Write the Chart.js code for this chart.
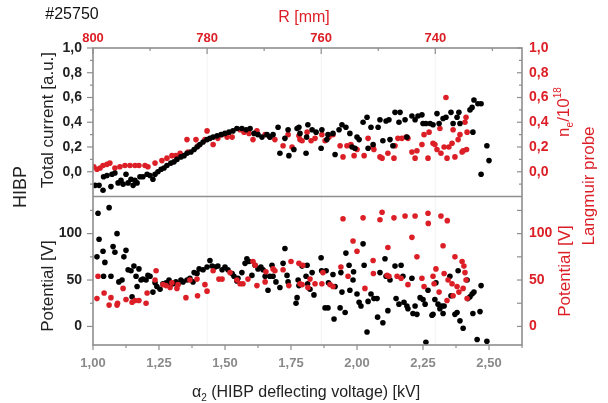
<!DOCTYPE html>
<html>
<head>
<meta charset="utf-8">
<script src="https://cdn.jsdelivr.net/npm/chart.js@4.4.1/dist/chart.umd.min.js"></script>
<style>
  html, body { margin: 0; padding: 0; background: #fff; }
  #wrap { width: 608px; height: 403px; }
</style>
</head>
<body>
<div id="wrap"><canvas id="chart" width="608" height="403"></canvas></div>
<script>
// [alpha2 kV, value]
const totalCurrent = [[1.008,-0.11],[1.023,-0.11],[1.038,-0.15],[1.040,-0.04],[1.053,-0.03],[1.068,-0.12],[1.072,-0.02],[1.083,-0.01],[1.095,-0.09],[1.106,-0.07],[1.114,-0.10],[1.125,-0.02],[1.133,-0.09],[1.144,-0.06],[1.152,-0.11],[1.159,-0.07],[1.167,-0.09],[1.178,-0.04],[1.189,-0.04],[1.205,-0.02],[1.216,-0.03],[1.227,-0.06],[1.235,-0.02],[1.246,0.00],[1.258,0.02],[1.269,0.03],[1.280,0.05],[1.295,0.07],[1.307,0.08],[1.318,0.10],[1.333,0.12],[1.345,0.13],[1.356,0.15],[1.371,0.16],[1.383,0.18],[1.394,0.20],[1.405,0.22],[1.417,0.24],[1.432,0.26],[1.443,0.27],[1.455,0.28],[1.470,0.29],[1.485,0.30],[1.500,0.31],[1.515,0.32],[1.530,0.33],[1.545,0.35],[1.564,0.35],[1.580,0.34],[1.595,0.35],[1.610,0.31],[1.625,0.30],[1.640,0.28],[1.659,0.30],[1.670,0.28],[1.682,0.30],[1.701,0.36],[1.708,0.15],[1.727,0.27],[1.739,0.34],[1.742,0.13],[1.761,0.18],[1.773,0.35],[1.780,0.36],[1.784,0.31],[1.807,0.15],[1.809,0.28],[1.814,0.38],[1.830,0.34],[1.845,0.32],[1.867,0.34],[1.864,0.19],[1.886,0.26],[1.890,0.30],[1.909,0.31],[1.917,0.14],[1.932,0.34],[1.943,0.38],[1.958,0.36],[1.973,0.31],[1.981,0.20],[1.992,0.19],[2.000,0.28],[2.008,0.26],[2.023,0.40],[2.038,0.44],[2.042,0.19],[2.053,0.36],[2.061,0.22],[2.080,0.36],[2.087,0.42],[2.098,0.25],[2.110,0.41],[2.121,0.42],[2.125,0.26],[2.136,0.21],[2.144,0.48],[2.163,0.48],[2.159,0.40],[2.182,0.42],[2.189,0.28],[2.208,0.45],[2.220,0.42],[2.231,0.45],[2.246,0.46],[2.250,0.39],[2.261,0.39],[2.277,0.39],[2.288,0.38],[2.303,0.47],[2.311,0.39],[2.326,0.43],[2.337,0.44],[2.356,0.48],[2.364,0.39],[2.379,0.44],[2.386,0.48],[2.390,0.39],[2.428,0.50],[2.436,0.52],[2.439,0.32],[2.443,0.58],[2.458,0.55],[2.470,0.55],[2.470,-0.02],[2.492,0.21],[2.500,0.09]];

const electronDensity = [[1.003,0.04],[1.015,0.02],[1.027,0.03],[1.038,0.05],[1.053,0.06],[1.064,0.07],[1.083,0.03],[1.102,0.04],[1.121,0.05],[1.140,0.05],[1.159,0.05],[1.174,0.05],[1.197,0.05],[1.208,0.04],[1.235,0.07],[1.261,0.09],[1.280,0.11],[1.299,0.13],[1.314,0.13],[1.330,0.15],[1.356,0.26],[1.360,0.16],[1.390,0.26],[1.398,0.21],[1.424,0.26],[1.432,0.33],[1.455,0.22],[1.473,0.27],[1.489,0.30],[1.508,0.28],[1.527,0.28],[1.557,0.34],[1.572,0.32],[1.591,0.31],[1.606,0.26],[1.621,0.33],[1.652,0.30],[1.670,0.28],[1.689,0.26],[1.720,0.21],[1.739,0.30],[1.754,0.20],[1.780,0.29],[1.784,0.26],[1.792,0.25],[1.811,0.32],[1.826,0.25],[1.841,0.27],[1.867,0.30],[1.879,0.25],[1.894,0.28],[1.909,0.30],[1.936,0.21],[1.947,0.12],[1.962,0.21],[1.977,0.22],[1.989,0.13],[2.000,0.18],[2.027,0.13],[2.042,0.27],[2.061,0.20],[2.064,0.18],[2.087,0.12],[2.095,0.11],[2.117,0.15],[2.140,0.11],[2.144,0.21],[2.155,0.27],[2.170,0.27],[2.186,0.28],[2.193,0.27],[2.208,0.16],[2.220,0.11],[2.227,0.17],[2.246,0.22],[2.254,0.30],[2.269,0.11],[2.273,0.32],[2.288,0.23],[2.295,0.22],[2.303,0.18],[2.314,0.35],[2.318,0.15],[2.330,0.20],[2.337,0.60],[2.341,0.11],[2.348,0.20],[2.360,0.23],[2.364,0.34],[2.371,0.12],[2.383,0.26],[2.390,0.30],[2.398,0.16],[2.402,0.17],[2.409,0.40],[2.413,0.44],[2.415,0.18],[2.417,0.32]];

const hibpPotential = [[1.019,122],[1.023,94],[1.038,81],[1.015,75],[1.045,69],[1.040,54],[1.061,128],[1.068,54],[1.076,86],[1.083,80],[1.091,100],[1.098,48],[1.110,50],[1.117,75],[1.125,82],[1.133,61],[1.144,60],[1.148,32],[1.155,65],[1.163,54],[1.167,43],[1.174,62],[1.182,50],[1.189,51],[1.201,50],[1.208,55],[1.216,54],[1.227,37],[1.235,47],[1.242,43],[1.254,40],[1.265,46],[1.277,47],[1.288,50],[1.292,45],[1.303,46],[1.314,48],[1.322,46],[1.333,50],[1.341,48],[1.356,50],[1.367,52],[1.379,48],[1.383,58],[1.394,57],[1.402,62],[1.417,61],[1.432,64],[1.443,71],[1.451,65],[1.462,64],[1.473,65],[1.489,61],[1.500,64],[1.511,61],[1.527,57],[1.534,54],[1.545,49],[1.549,52],[1.564,58],[1.576,68],[1.583,73],[1.591,70],[1.602,55],[1.614,66],[1.625,62],[1.636,64],[1.644,61],[1.652,54],[1.663,39],[1.670,54],[1.678,66],[1.682,54],[1.693,48],[1.708,42],[1.720,68],[1.727,84],[1.735,55],[1.739,48],[1.769,25],[1.773,31],[1.777,50],[1.780,44],[1.792,65],[1.807,54],[1.811,66],[1.813,46],[1.830,58],[1.822,40],[1.837,34],[1.864,74],[1.866,60],[1.879,20],[1.883,60],[1.890,20],[1.892,47],[1.909,56],[1.917,43],[1.913,8],[1.936,20],[1.943,37],[1.939,58],[1.955,15],[1.958,79],[1.970,66],[1.973,39],[1.985,50],[1.987,59],[2.000,35],[2.008,26],[2.015,22],[2.023,89],[2.027,66],[2.038,-6],[2.042,27],[2.053,35],[2.064,30],[2.076,30],[2.078,10],[2.087,58],[2.098,4],[2.106,73],[2.110,54],[2.117,17],[2.125,50],[2.144,65],[2.148,30],[2.159,24],[2.167,66],[2.174,54],[2.178,26],[2.189,22],[2.193,19],[2.208,52],[2.212,14],[2.220,22],[2.227,13],[2.239,31],[2.250,29],[2.258,24],[2.261,-17],[2.269,39],[2.284,12],[2.288,13],[2.295,29],[2.299,47],[2.307,24],[2.314,19],[2.322,22],[2.330,22],[2.326,14],[2.352,54],[2.356,33],[2.371,13],[2.379,15],[2.383,60],[2.390,6],[2.402,-2],[2.417,50],[2.420,30],[2.428,32],[2.436,35],[2.443,37],[2.439,14],[2.455,-14],[2.466,16],[2.470,44],[2.492,-16]];

const probePotential = [[1.019,54],[1.015,30],[1.042,36],[1.061,23],[1.068,31],[1.091,23],[1.093,25],[1.114,41],[1.125,29],[1.148,26],[1.159,28],[1.174,28],[1.201,25],[1.205,36],[1.239,60],[1.235,50],[1.265,45],[1.277,44],[1.292,42],[1.299,47],[1.318,41],[1.322,45],[1.352,31],[1.367,50],[1.394,51],[1.396,33],[1.424,45],[1.432,38],[1.455,60],[1.477,51],[1.489,51],[1.519,58],[1.545,50],[1.557,46],[1.568,46],[1.587,51],[1.606,70],[1.614,66],[1.621,44],[1.652,48],[1.655,59],[1.682,62],[1.689,60],[1.720,61],[1.742,44],[1.750,70],[1.780,68],[1.784,46],[1.795,66],[1.814,42],[1.822,51],[1.792,45],[1.841,46],[1.871,58],[1.867,46],[1.898,45],[1.909,43],[1.939,64],[1.947,116],[1.966,54],[1.985,92],[2.000,81],[2.023,117],[2.030,41],[2.061,71],[2.062,57],[2.087,115],[2.095,123],[2.114,55],[2.117,85],[2.121,54],[2.140,117],[2.152,54],[2.167,52],[2.182,119],[2.193,45],[2.208,96],[2.220,119],[2.227,75],[2.246,52],[2.254,43],[2.269,122],[2.270,111],[2.288,54],[2.292,46],[2.299,62],[2.311,37],[2.318,119],[2.326,87],[2.330,57],[2.341,28],[2.342,114],[2.345,50],[2.360,46],[2.364,33],[2.371,75],[2.379,43],[2.386,37],[2.398,70],[2.402,41],[2.405,65],[2.409,58],[2.413,50],[2.417,30]];

// axis ticks
const xTicks = [1.00, 1.25, 1.50, 1.75, 2.00, 2.25, 2.50];
const xMinor = [1.125, 1.375, 1.625, 1.875, 2.125, 2.375, 2.625];
const rTicks = [800, 780, 760, 740];
const rMinor = [790, 770, 750, 730];
const fracTicks = [0.0, 0.2, 0.4, 0.6, 0.8, 1.0];
const fracMinor = [-0.1, 0.1, 0.3, 0.5, 0.7, 0.9];
const potTicks = [0, 50, 100];
const potMinor = [25, 75, 125];

const RED = '#dc1f26';
const AXIS = '#8e8e8e';
const FONT = '"Liberation Sans", Arial, sans-serif';

const toXY = pts => pts.map(p => ({ x: p[0], y: p[1] }));
const comma = (v, d) => v.toFixed(d).replace('.', ',');
const setTicks = list => scale => { scale.ticks = list.map(v => ({ value: v })); };
const noGrid = { display: false, drawTicks: false };

function yAxis(pos, min, max, ticks, digits, color) {
  return {
    type: 'linear', position: pos, stack: pos, stackWeight: 1,
    min: min, max: max,
    afterBuildTicks: setTicks(ticks),
    afterFit: s => { s.width = pos === 'left' ? 93 : 86; },
    grid: noGrid, border: { display: false },
    ticks: {
      padding: pos === 'left' ? 11 : 7, color: color,
      font: { family: FONT, size: 14, weight: 'bold' },
      callback: v => comma(v, digits)
    }
  };
}

// draws runs of text with sub/superscripts, centred on (0,0)
function drawRuns(ctx, runs) {
  let w = 0;
  runs.forEach(r => { ctx.font = r.size + 'px ' + FONT; w += ctx.measureText(r.t).width; });
  let x = -w / 2;
  runs.forEach(r => {
    ctx.font = r.size + 'px ' + FONT;
    ctx.fillText(r.t, x, 6 + (r.dy || 0));
    x += ctx.measureText(r.t).width;
  });
}

function textAt(ctx, runs, cx, cy, color, rotate) {
  ctx.save();
  ctx.fillStyle = color;
  ctx.textAlign = 'left';
  ctx.textBaseline = 'alphabetic';
  ctx.translate(cx, cy);
  if (rotate) ctx.rotate(-Math.PI / 2);
  drawRuns(ctx, runs);
  ctx.restore();
}

const framePlugin = {
  id: 'frame',
  beforeDatasetsDraw(chart) {
    const ctx = chart.ctx, a = chart.chartArea, r = chart.scales.xR;
    ctx.save();
    ctx.strokeStyle = '#f2f2f2';
    ctx.lineWidth = 1;
    rTicks.slice(1).forEach(v => {
      const px = r.getPixelForValue(v);
      ctx.beginPath(); ctx.moveTo(px, a.top); ctx.lineTo(px, a.bottom); ctx.stroke();
    });
    ctx.restore();
  },
  afterDraw(chart) {
    const ctx = chart.ctx, s = chart.scales, a = chart.chartArea;
    const seg = (x1, y1, x2, y2) => { ctx.beginPath(); ctx.moveTo(x1, y1); ctx.lineTo(x2, y2); ctx.stroke(); };
    ctx.save();
    ctx.strokeStyle = AXIS;
    ctx.lineWidth = 1.6;
    ctx.strokeRect(a.left, a.top, a.right - a.left, a.bottom - a.top);
    seg(a.left, s.yCur.bottom, a.right, s.yCur.bottom);

    ctx.lineWidth = 1.2;
    // left: outward, right: inward
    const left = (scale, vals, len) => vals.forEach(v => { const y = scale.getPixelForValue(v); seg(a.left, y, a.left - len, y); });
    const right = (scale, vals, len) => vals.forEach(v => { const y = scale.getPixelForValue(v); seg(a.right, y, a.right - len, y); });
    left(s.yCur, fracTicks, 6); left(s.yCur, fracMinor, 3);
    left(s.yPot, potTicks, 6); left(s.yPot, potMinor, 3);
    right(s.yNe, fracTicks, 5); right(s.yNe, fracMinor, 3);
    right(s.yLp, potTicks, 5); right(s.yLp, potMinor, 5);
    xTicks.forEach(v => { const x = s.x.getPixelForValue(v); seg(x, a.bottom, x, a.bottom + 5); });
    xMinor.forEach(v => { const x = s.x.getPixelForValue(v); seg(x, a.bottom, x, a.bottom + 3); });
    rTicks.forEach(v => { const x = s.xR.getPixelForValue(v); seg(x, a.top, x, a.top + 6); });
    rMinor.forEach(v => { const x = s.xR.getPixelForValue(v); seg(x, a.top, x, a.top + 3); });
    ctx.restore();

    // titles
    textAt(ctx, [{ t: '#25750', size: 16 }], 72, 13, '#111', false);
    textAt(ctx, [{ t: 'R [mm]', size: 16 }], 304, 16, RED, false);
    textAt(ctx, [{ t: 'α', size: 16 }, { t: '2', size: 10, dy: 4 }, { t: ' (HIBP deflecting voltage) [kV]', size: 16 }], 306, 391, '#222', false);
    textAt(ctx, [{ t: 'HIBP', size: 18 }], 20, 187, '#222', true);
    textAt(ctx, [{ t: 'Total current [a.u.]', size: 17 }], 47, 120, '#222', true);
    textAt(ctx, [{ t: 'Potential [V]', size: 17 }], 47, 286, '#222', true);
    textAt(ctx, [{ t: 'n', size: 17 }, { t: 'e', size: 10, dy: 4 }, { t: '/10', size: 17 }, { t: '18', size: 10, dy: -8 }], 563, 112, RED, true);
    textAt(ctx, [{ t: 'Langmuir probe', size: 17 }], 588, 186, RED, true);
    textAt(ctx, [{ t: 'Potential [V]', size: 17 }], 564, 271, RED, true);
  }
};

function series(pts, color, yID) {
  return {
    data: toXY(pts), xAxisID: 'x', yAxisID: yID,
    showLine: false, pointRadius: 2.8, pointHoverRadius: 2.8,
    pointBackgroundColor: color, pointBorderWidth: 0, borderColor: color
  };
}

new Chart(document.getElementById('chart'), {
  type: 'scatter',
  data: {
    datasets: [
      series(totalCurrent, '#000', 'yCur'),
      series(electronDensity, RED, 'yNe'),
      series(probePotential, RED, 'yLp'),
      series(hibpPotential, '#000', 'yPot')
    ]
  },
  options: {
    responsive: false,
    animation: false,
    layout: { padding: 0 },
    plugins: { legend: { display: false }, tooltip: { enabled: false } },
    scales: {
      x: {
        type: 'linear', position: 'bottom', min: 1.0, max: 2.625,
        afterBuildTicks: setTicks(xTicks),
        afterFit: s => { s.height = 58; },
        grid: noGrid, border: { display: false },
        ticks: { padding: 11, color: '#8a8a8a', font: { family: FONT, size: 13, weight: 'bold' }, callback: v => comma(v, 2) }
      },
      xR: {
        type: 'linear', position: 'top', min: 724.8, max: 800, reverse: true,
        afterBuildTicks: setTicks(rTicks),
        afterFit: s => { s.height = 48; },
        grid: noGrid, border: { display: false },
        ticks: { padding: 2, color: RED, font: { family: FONT, size: 13, weight: 'bold' }, callback: v => String(v) }
      },
      yPot: yAxis('left', -20, 140, potTicks, 0, '#222'),
      yCur: yAxis('left', -0.2, 1.0, fracTicks, 1, '#222'),
      yNe: yAxis('right', -0.2, 1.0, fracTicks, 1, RED),
      yLp: yAxis('right', -20, 140, potTicks, 0, RED)
    }
  },
  plugins: [framePlugin]
});
</script>
</body>
</html>
